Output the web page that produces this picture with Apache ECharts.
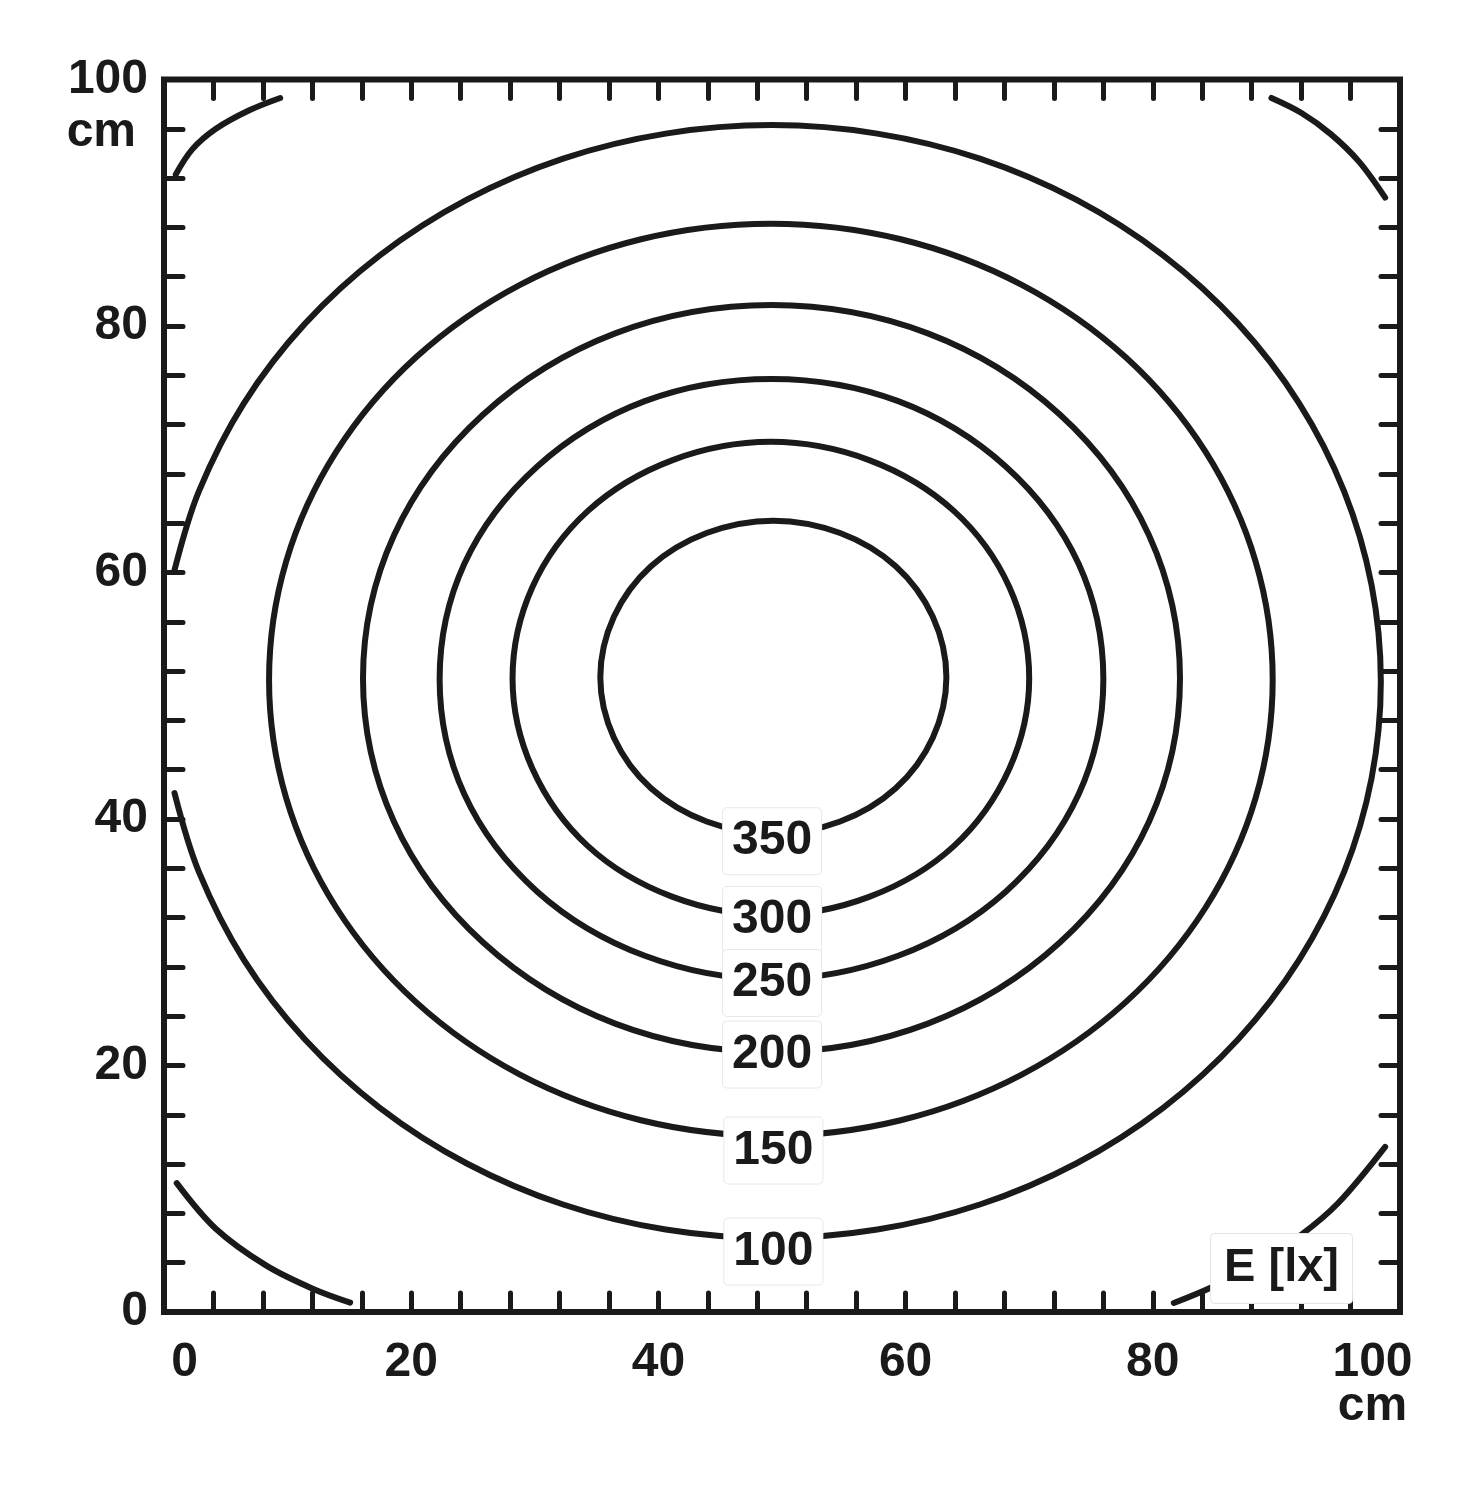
<!DOCTYPE html>
<html>
<head>
<meta charset="utf-8">
<title>Illuminance contours</title>
<script src="https://cdn.jsdelivr.net/npm/echarts@6/dist/echarts.min.js"></script>
<style>
  html, body { margin: 0; padding: 0; background: #ffffff; }
  #chart { width: 1477px; height: 1500px; }
</style>
</head>
<body>
<div id="chart"></div>
<script>
// ---------- data (x, y in cm) ----------
const levels = [350, 300, 250, 200, 150, 100];

// closed contours (points around each ring)
const c350 = [[49.3,38.8],[54.7,39.8],[59.2,42.5],[62.2,46.6],[63.3,51.5],[62.2,56.4],[59.2,60.5],[54.7,63.2],[49.3,64.2],[43.9,63.2],[39.4,60.5],[36.4,56.4],[35.3,51.5],[36.4,46.6],[39.4,42.5],[43.9,39.8]];
const c300 = [[49.1,32.2],[57.1,33.7],[63.9,37.8],[68.4,44.1],[70.0,51.4],[68.4,58.8],[63.9,65.0],[57.1,69.1],[49.1,70.6],[41.1,69.1],[34.3,65.0],[29.8,58.8],[28.2,51.4],[29.8,44.1],[34.3,37.8],[41.1,33.7]];
const c250 = [[49.15,27.0],[59.4,28.9],[68.1,34.1],[74.0,42.0],[76.0,51.35],[74.0,60.7],[68.1,68.6],[59.4,73.9],[49.15,75.7],[38.9,73.9],[30.2,68.6],[24.3,60.7],[22.3,51.35],[24.3,42.0],[30.2,34.1],[38.9,28.9]];
const c200 = [[49.15,21.1],[61.8,23.4],[72.5,30.0],[79.7,39.8],[82.2,51.4],[79.7,63.0],[72.5,72.8],[61.8,79.4],[49.15,81.7],[36.5,79.4],[25.8,72.8],[18.6,63.0],[16.1,51.4],[18.6,39.8],[25.8,30.0],[36.5,23.4]];
const c150 = [[49.1,14.3],[59.61,15.56],[69.4,19.26],[77.81,25.14],[84.26,32.8],[88.32,41.72],[89.7,51.3],[88.32,60.88],[84.26,69.8],[77.81,77.46],[69.4,83.34],[59.61,87.04],[49.1,88.3],[38.59,87.04],[28.8,83.34],[20.39,77.46],[13.94,69.8],[9.88,60.88],[8.5,51.3],[9.88,41.72],[13.94,32.8],[20.39,25.14],[28.8,19.26],[38.59,15.56]];
// open contour (cut by the left edge)
const c100 = [[0.85,60.2],[2.82,66.59],[6.46,73.73],[11.39,80.17],[17.46,85.73],[24.5,90.25],[32.29,93.58],[40.59,95.61],[49.15,96.3],[57.71,95.61],[66.01,93.58],[73.8,90.25],[80.84,85.73],[86.91,80.17],[91.84,73.73],[95.48,66.59],[97.7,58.99],[98.45,51.15],[97.7,43.31],[95.48,35.71],[91.84,28.57],[86.91,22.13],[80.84,16.57],[73.8,12.05],[66.01,8.72],[57.71,6.69],[49.15,6.0],[40.59,6.69],[32.29,8.72],[24.5,12.05],[17.46,16.57],[11.39,22.13],[6.46,28.57],[2.82,35.71],[0.85,42.1]];

// unlabelled corner contours
const arcTL = [[0.95,92.3],[2.3,94.35],[4.2,96.0],[6.9,97.5],[9.4,98.5]];
const arcTR = [[89.6,98.5],[92.0,97.3],[94.4,95.57],[96.7,93.32],[98.8,90.42]];
const arcBL = [[1.03,10.46],[4.19,6.76],[8.25,3.78],[12.03,1.89],[15.06,0.76]];
const arcBR = [[81.7,0.73],[84.9,2.07],[88.4,3.89],[92.05,6.3],[95.0,8.84],[98.8,13.4]];

// contour label anchors
const labelX = [49.2, 49.2, 49.2, 49.2, 49.3, 49.3];
const labelY = [38.2, 31.8, 26.7, 20.9, 13.1, 4.9];

const unitText = 'cm';
const quantityText = 'E [lx]';

// ---------- styling ----------
const INK = '#1a1a1a';
const FONT = "'Liberation Sans', Arial, Helvetica, sans-serif";
const LW = 6;

const closedContours = [c350, c300, c250, c200, c150];
const openLines = [c100, arcTL, arcTR, arcBL, arcBR];

function curveSeries(list, closed) {
  return {
    type: 'custom', coordinateSystem: 'cartesian2d', silent: true, z: 2,
    data: list.map(function (c, i) { return [i, 0]; }),
    renderItem: function (params, api) {
      const line = list[api.value(0)];
      const pts = line.map(function (p) { return api.coord(p); });
      return {
        type: closed ? 'polygon' : 'polyline',
        shape: { points: pts, smooth: 0.34 },
        style: { fill: 'none', stroke: INK, lineWidth: LW, lineJoin: 'round', lineCap: 'round' }
      };
    }
  };
}

const series = [
  curveSeries(closedContours, true),
  curveSeries(openLines, false),
  {
    type: 'scatter', silent: true, z: 10,
    symbolSize: 1, itemStyle: { color: 'rgba(0,0,0,0)', opacity: 1 },
    data: levels.map(function (lv, i) { return { name: String(lv), value: [labelX[i], labelY[i]] }; }),
    label: {
      show: true, position: 'inside', formatter: '{b}', opacity: 1,
      fontFamily: FONT, fontWeight: 'bold', fontSize: 48, lineHeight: 46, color: INK,
      backgroundColor: '#ffffff', borderColor: '#e8e8e8', borderWidth: 1, borderRadius: 4,
      padding: [10, 9, 10, 9]
    }
  }
];

const tickStyle = { color: INK, width: 5, cap: 'round' };
const baseLabel = { fontFamily: FONT, fontWeight: 'bold', fontSize: 48, color: INK };

function tickAxis(extra) {
  return Object.assign({
    type: 'value', min: 0, max: 100, interval: 20,
    axisLine: { show: false, onZero: false },
    axisTick: { show: true, inside: true, length: 19, lineStyle: tickStyle },
    minorTick: { show: true, splitNumber: 5, length: 19, lineStyle: tickStyle },
    splitLine: { show: false }, minorSplitLine: { show: false }
  }, extra);
}

const option = {
  animation: false,
  backgroundColor: '#ffffff',
  title: {
    text: quantityText, right: 124, bottom: 196,
    padding: [12, 14, 12, 14],
    backgroundColor: '#ffffff', borderColor: '#e4e4e4', borderWidth: 1, borderRadius: 4,
    textStyle: { fontFamily: FONT, fontWeight: 'bold', fontSize: 47, lineHeight: 47, color: INK },
    z: 20
  },
  grid: {
    left: 164, top: 78, width: 1236, height: 1234,
    show: true, borderColor: INK, borderWidth: 6, backgroundColor: 'transparent'
  },
  xAxis: [
    tickAxis({
      position: 'bottom',
      axisLabel: Object.assign({}, baseLabel, {
        margin: 29, lineHeight: 44, showMinLabel: true, showMaxLabel: true,
        formatter: function (v) {
          if (v === 0) return '{l|0}';
          if (v === 100) return '{r|100}\n{r|' + unitText + '}';
          return String(v);
        },
        rich: {
          l: Object.assign({}, baseLabel, { lineHeight: 44, padding: [0, 0, 0, 41] }),
          r: Object.assign({}, baseLabel, { lineHeight: 44, padding: [0, 55, 0, 0] })
        }
      })
    }),
    tickAxis({ position: 'top', axisLabel: { show: false } })
  ],
  yAxis: [
    tickAxis({
      position: 'left',
      axisLabel: Object.assign({}, baseLabel, {
        margin: 16, lineHeight: 53, showMinLabel: true, showMaxLabel: true,
        formatter: function (v) {
          if (v === 100) return '{v| }\n{v|100}\n{c|' + unitText + '}';
          return String(v);
        },
        rich: {
          v: Object.assign({}, baseLabel, { lineHeight: 53 }),
          c: Object.assign({}, baseLabel, { lineHeight: 53, padding: [0, 12, 0, 0] })
        }
      })
    }),
    tickAxis({ position: 'right', axisLabel: { show: false } })
  ],
  series: series
};

const chart = echarts.init(document.getElementById('chart'), null, { renderer: 'canvas' });
chart.setOption(option);
</script>
</body>
</html>
